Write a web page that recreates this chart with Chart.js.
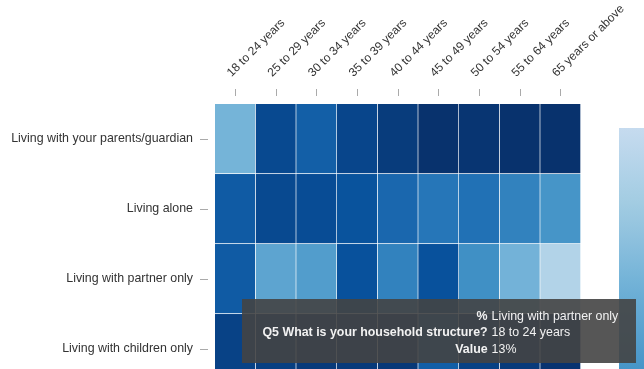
<!DOCTYPE html>
<html>
<head>
<meta charset="utf-8">
<script src="https://cdn.jsdelivr.net/npm/chart.js@4.4.1/dist/chart.umd.min.js"></script>
<style>
    html, body { margin: 0; padding: 0; background: #fff; overflow: hidden; }
    #wrap { position: relative; width: 644px; height: 400px; }
    #tip {
        position: absolute;
        width: 394px;
        height: 64px;
        box-sizing: border-box;
        padding: 8.5px 18px 0 0;
        background: rgba(68, 68, 68, 0.9);
        color: #f2f2f2;
        font: 12.4px "Liberation Sans", Arial, sans-serif;
        display: none;
    }
    #tip table { border-collapse: collapse; margin-left: auto; }
    #tip td { padding: 0; line-height: 16.5px; white-space: nowrap; }
    #tip td.k { font-weight: bold; text-align: right; padding-right: 4px; }
</style>
</head>
<body>
<div id="wrap">
    <canvas id="heat"></canvas>
    <div id="tip"></div>
</div>
<script>
const ageGroups = ['18 to 24 years', '25 to 29 years', '30 to 34 years', '35 to 39 years',
    '40 to 44 years', '45 to 49 years', '50 to 54 years', '55 to 64 years', '65 years or above'];
const households = ['Living with your parents/guardian', 'Living alone',
    'Living with partner only', 'Living with children only'];

// % of each age group, one array per household type
const withParents  = [42, 7.5, 14.5, 6.5, 3.5, 0.5, 1.5, 0.5, 0.5];
const alone        = [13, 7.5, 8.5, 10.5, 17, 21.5, 20, 25, 31];
const partnerOnly  = [13, 36.5, 34, 10, 25, 10, 29.5, 41.5, 55];
const childrenOnly = [5.5, 4.5, 3, 3, 2.5, 14, 5, 3, 1];
const rowValues = [withParents, alone, partnerOnly, childrenOnly];

const question = 'Q5 What is your household structure?';

// dark (low) -> light (high)
const palette = ['#08306b', '#08519c', '#2171b5', '#4292c6', '#6baed6', '#9ecae1', '#c6dbef'];
const maxValue = 60;

function hexToRgb(h) {
    return [parseInt(h.slice(1, 3), 16), parseInt(h.slice(3, 5), 16), parseInt(h.slice(5, 7), 16)];
}

function colorFor(v) {
    let p = Math.max(0, Math.min(1, v / maxValue)) * (palette.length - 1);
    let i = Math.min(Math.floor(p), palette.length - 2);
    let t = p - i;
    let a = hexToRgb(palette[i]), b = hexToRgb(palette[i + 1]);
    let c = a.map((x, k) => Math.round(x + (b[k] - x) * t));
    return 'rgb(' + c.join(',') + ')';
}

const datasets = households.map((name, r) => {
    const colors = rowValues[r].map(colorFor);
    return {
        label: name,
        data: ageGroups.map(() => [r, r + 1]),
        backgroundColor: colors,
        hoverBackgroundColor: colors,
        borderColor: 'rgba(255,255,255,0.35)',
        hoverBorderColor: 'rgba(255,255,255,0.35)',
        borderWidth: { top: 0, left: 0, right: 1, bottom: 1 },
        hoverBorderWidth: { top: 0, left: 0, right: 1, bottom: 1 },
        borderSkipped: false,
        barPercentage: 1,
        categoryPercentage: 1,
        grouped: false
    };
});

// vertical colour key on the right
const colorKey = {
    id: 'colorKey',
    afterDraw(chart) {
        const ctx = chart.ctx;
        const area = chart.chartArea;
        const x = area.right + 38, y = area.top + 24, w = 30, h = 500;
        const g = ctx.createLinearGradient(0, y, 0, y + h);
        for (let i = 0; i <= 20; i++) {
            g.addColorStop(i / 20, colorFor(maxValue * (1 - i / 20)));
        }
        ctx.save();
        ctx.fillStyle = g;
        ctx.fillRect(x, y, w, h);
        ctx.restore();
    }
};

function externalTip(context) {
    const tip = document.getElementById('tip');
    const t = context.tooltip;
    if (t.opacity === 0 || !t.dataPoints || !t.dataPoints.length) {
        tip.style.display = 'none';
        return;
    }
    const dp = t.dataPoints[0];
    const val = rowValues[dp.datasetIndex][dp.dataIndex];
    tip.innerHTML =
        '<table>' +
        '<tr><td class="k">%</td><td>' + households[dp.datasetIndex] + '</td></tr>' +
        '<tr><td class="k">' + question + '</td><td>' + ageGroups[dp.dataIndex] + '</td></tr>' +
        '<tr><td class="k">Value</td><td>' + Math.round(val) + '%</td></tr>' +
        '</table>';
    const el = dp.element;
    tip.style.left = (el.x + 7) + 'px';
    tip.style.top = ((el.y + el.base) / 2 + 20) + 'px';
    tip.style.display = 'block';
}

Chart.defaults.font.family = '"Liberation Sans", Arial, sans-serif';
Chart.defaults.font.size = 12.4;
Chart.defaults.color = '#333';

const chart = new Chart(document.getElementById('heat'), {
    type: 'bar',
    data: { labels: ageGroups, datasets: datasets },
    plugins: [colorKey],
    options: {
        responsive: true,
        maintainAspectRatio: false,
        animation: false,
        layout: { padding: { top: 0, left: 0, right: 63, bottom: 16 } },
        plugins: {
            legend: { display: false },
            tooltip: { enabled: false, external: externalTip, mode: 'nearest', intersect: true }
        },
        scales: {
            x: {
                position: 'top',
                afterFit(s) { s.height = 104; },
                border: { display: false },
                grid: {
                    offset: false,
                    drawOnChartArea: false,
                    tickLength: 15,
                    tickBorderDash: [7, 100],
                    tickColor: '#aaa'
                },
                ticks: {
                    minRotation: 45, maxRotation: 45, autoSkip: false,
                    padding: 9, labelOffset: 4, color: '#333', font: { size: 12 }
                }
            },
            y: {
                type: 'linear',
                reverse: true,
                min: 0,
                max: households.length,
                afterFit(s) { s.width = 215; },
                afterBuildTicks(s) { s.ticks = households.map((h, i) => ({ value: i + 0.5 })); },
                border: { display: false },
                grid: {
                    drawOnChartArea: false,
                    tickLength: 15,
                    tickBorderDash: [8, 100],
                    tickColor: '#aaa'
                },
                ticks: {
                    padding: 7,
                    color: '#333',
                    callback: v => households[Math.floor(v)]
                }
            }
        }
    }
});

// show the hovered cell: partner only / 18 to 24 years
const active = [{ datasetIndex: 2, index: 0 }];
const cell = chart.getDatasetMeta(2).data[0];
chart.setActiveElements(active);
chart.tooltip.setActiveElements(active, { x: cell.x, y: (cell.y + cell.base) / 2 });
chart.update();
</script>
</body>
</html>
